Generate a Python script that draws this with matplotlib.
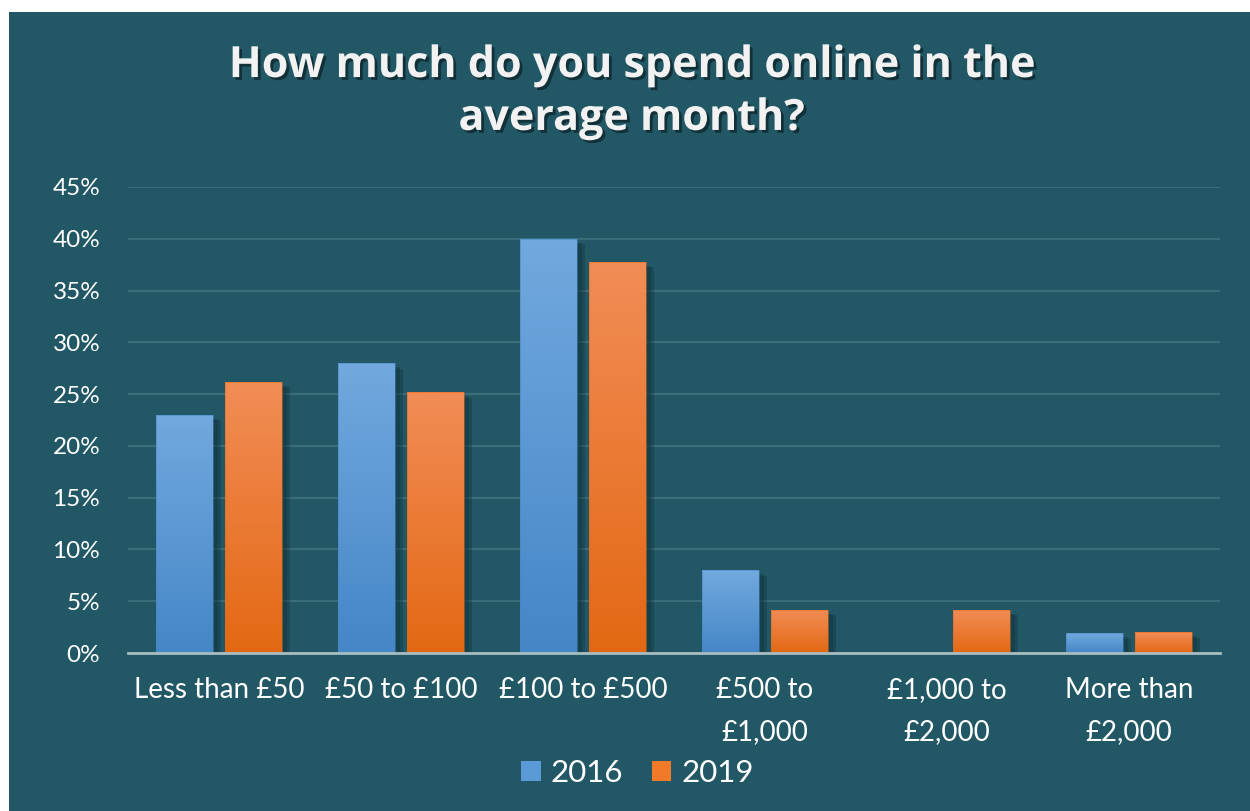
import matplotlib
matplotlib.use("Agg")
import matplotlib.pyplot as plt
import matplotlib.patheffects as pe
from matplotlib.patches import Rectangle
import matplotlib.colors as mcolors
import numpy as np

categories = ["Less than £50", "£50 to £100", "£100 to £500", "£500 to\n£1,000", "£1,000 to\n£2,000", "More than\n£2,000"]
series_names = ["2016", "2019"]
values_2016 = [23.0, 28.0, 40.0, 8.0, 0.0, 1.9]
values_2019 = [26.2, 25.2, 37.8, 4.2, 4.2, 2.0]
yticks = [0, 5, 10, 15, 20, 25, 30, 35, 40, 45]
title = "How much do you spend online in the\naverage month?"

BG = "#225866"
GRID = "#3b6c7a"
top_colors = ["#72a9de", "#f28d57"]
bot_colors = ["#4586c7", "#e36813"]
mid_colors = ["#5a9ad6", "#f07a2a"]

plt.rcParams['font.family'] = ['Lato', 'DejaVu Sans']

fig = plt.figure(figsize=(12.5, 8.11), dpi=100)
fig.patch.set_facecolor("white")
fig.patches.append(Rectangle((9/1250, 0), 1 - 9/1250, 1 - 12/811, transform=fig.transFigure,
                             facecolor=BG, edgecolor="none", zorder=-10))

ax = fig.add_axes([128/1250, 1 - 653/811, (1220-128)/1250, (653-187)/811])
ax.set_facecolor(BG)
ax.patch.set_alpha(0)

x = np.arange(len(categories))
w = 0.31
off = 0.19
for si, vals in enumerate([values_2016, values_2019]):
    pos = x + (-off if si == 0 else off)
    bars = ax.bar(pos, vals, width=w, color=mid_colors[si], edgecolor="none", zorder=3,
                  label=series_names[si],
                  path_effects=[pe.SimplePatchShadow(offset=(6, -4), shadow_rgbFace="#0b2a33", alpha=0.3),
                                pe.SimplePatchShadow(offset=(4, -3), shadow_rgbFace="#0b2a33", alpha=0.3),
                                pe.Normal()])
    cmap = mcolors.LinearSegmentedColormap.from_list("g", [bot_colors[si], top_colors[si]])
    grad = np.linspace(0, 1, 256).reshape(-1, 1)
    for b, v in zip(bars, vals):
        if v <= 0:
            continue
        x0 = b.get_x()
        im = ax.imshow(grad, extent=(x0, x0 + b.get_width(), 0, v), origin="lower",
                       cmap=cmap, aspect="auto", zorder=4)
        im.set_clip_path(b)
        ax.add_patch(Rectangle((x0, 0), b.get_width(), v, fill=False,
                               edgecolor=bot_colors[si], linewidth=0.6, alpha=0.6, zorder=5))

ax.set_aspect("auto")
ax.set_ylim(0, 45)
ax.set_xlim(-0.5, len(categories) - 0.5)

ax.set_yticks(yticks)
ax.set_yticklabels([f"{t}%" for t in yticks])
ax.set_xticks(x)
ax.set_xticklabels(categories, linespacing=1.8)
ax.tick_params(axis="y", length=0, pad=20, labelsize=17.5, labelcolor="white")
ax.tick_params(axis="x", length=0, pad=17, labelsize=20, labelcolor="white")
ax.grid(axis="y", color=GRID, linewidth=1.5, zorder=0)
ax.set_axisbelow(True)
for s in ["top", "right", "left"]:
    ax.spines[s].set_visible(False)
ax.spines["bottom"].set_color("#a9bcc2")
ax.spines["bottom"].set_linewidth(2)
ax.spines["bottom"].set_zorder(6)

fig.text(0.505, 1 - 92/811, title, ha="center", va="center", fontsize=31, fontweight="bold",
         color="#f2f2f2", family=["Open Sans", "DejaVu Sans"], linespacing=1.3,
         path_effects=[pe.withSimplePatchShadow(offset=(2, -2), shadow_rgbFace="black", alpha=0.45)])

handles = [Rectangle((0, 0), 1, 1, facecolor=mid_colors[i], edgecolor="none") for i in range(2)]
leg = fig.legend(handles, series_names, loc="center", bbox_to_anchor=(0.51, 1 - 773/811), ncol=2,
                 frameon=False, fontsize=22.5, labelcolor="white", handlelength=0.62, handleheight=0.62,
                 handletextpad=0.33, columnspacing=0.9)

fig.savefig("out.png", dpi=100, facecolor=fig.get_facecolor())
